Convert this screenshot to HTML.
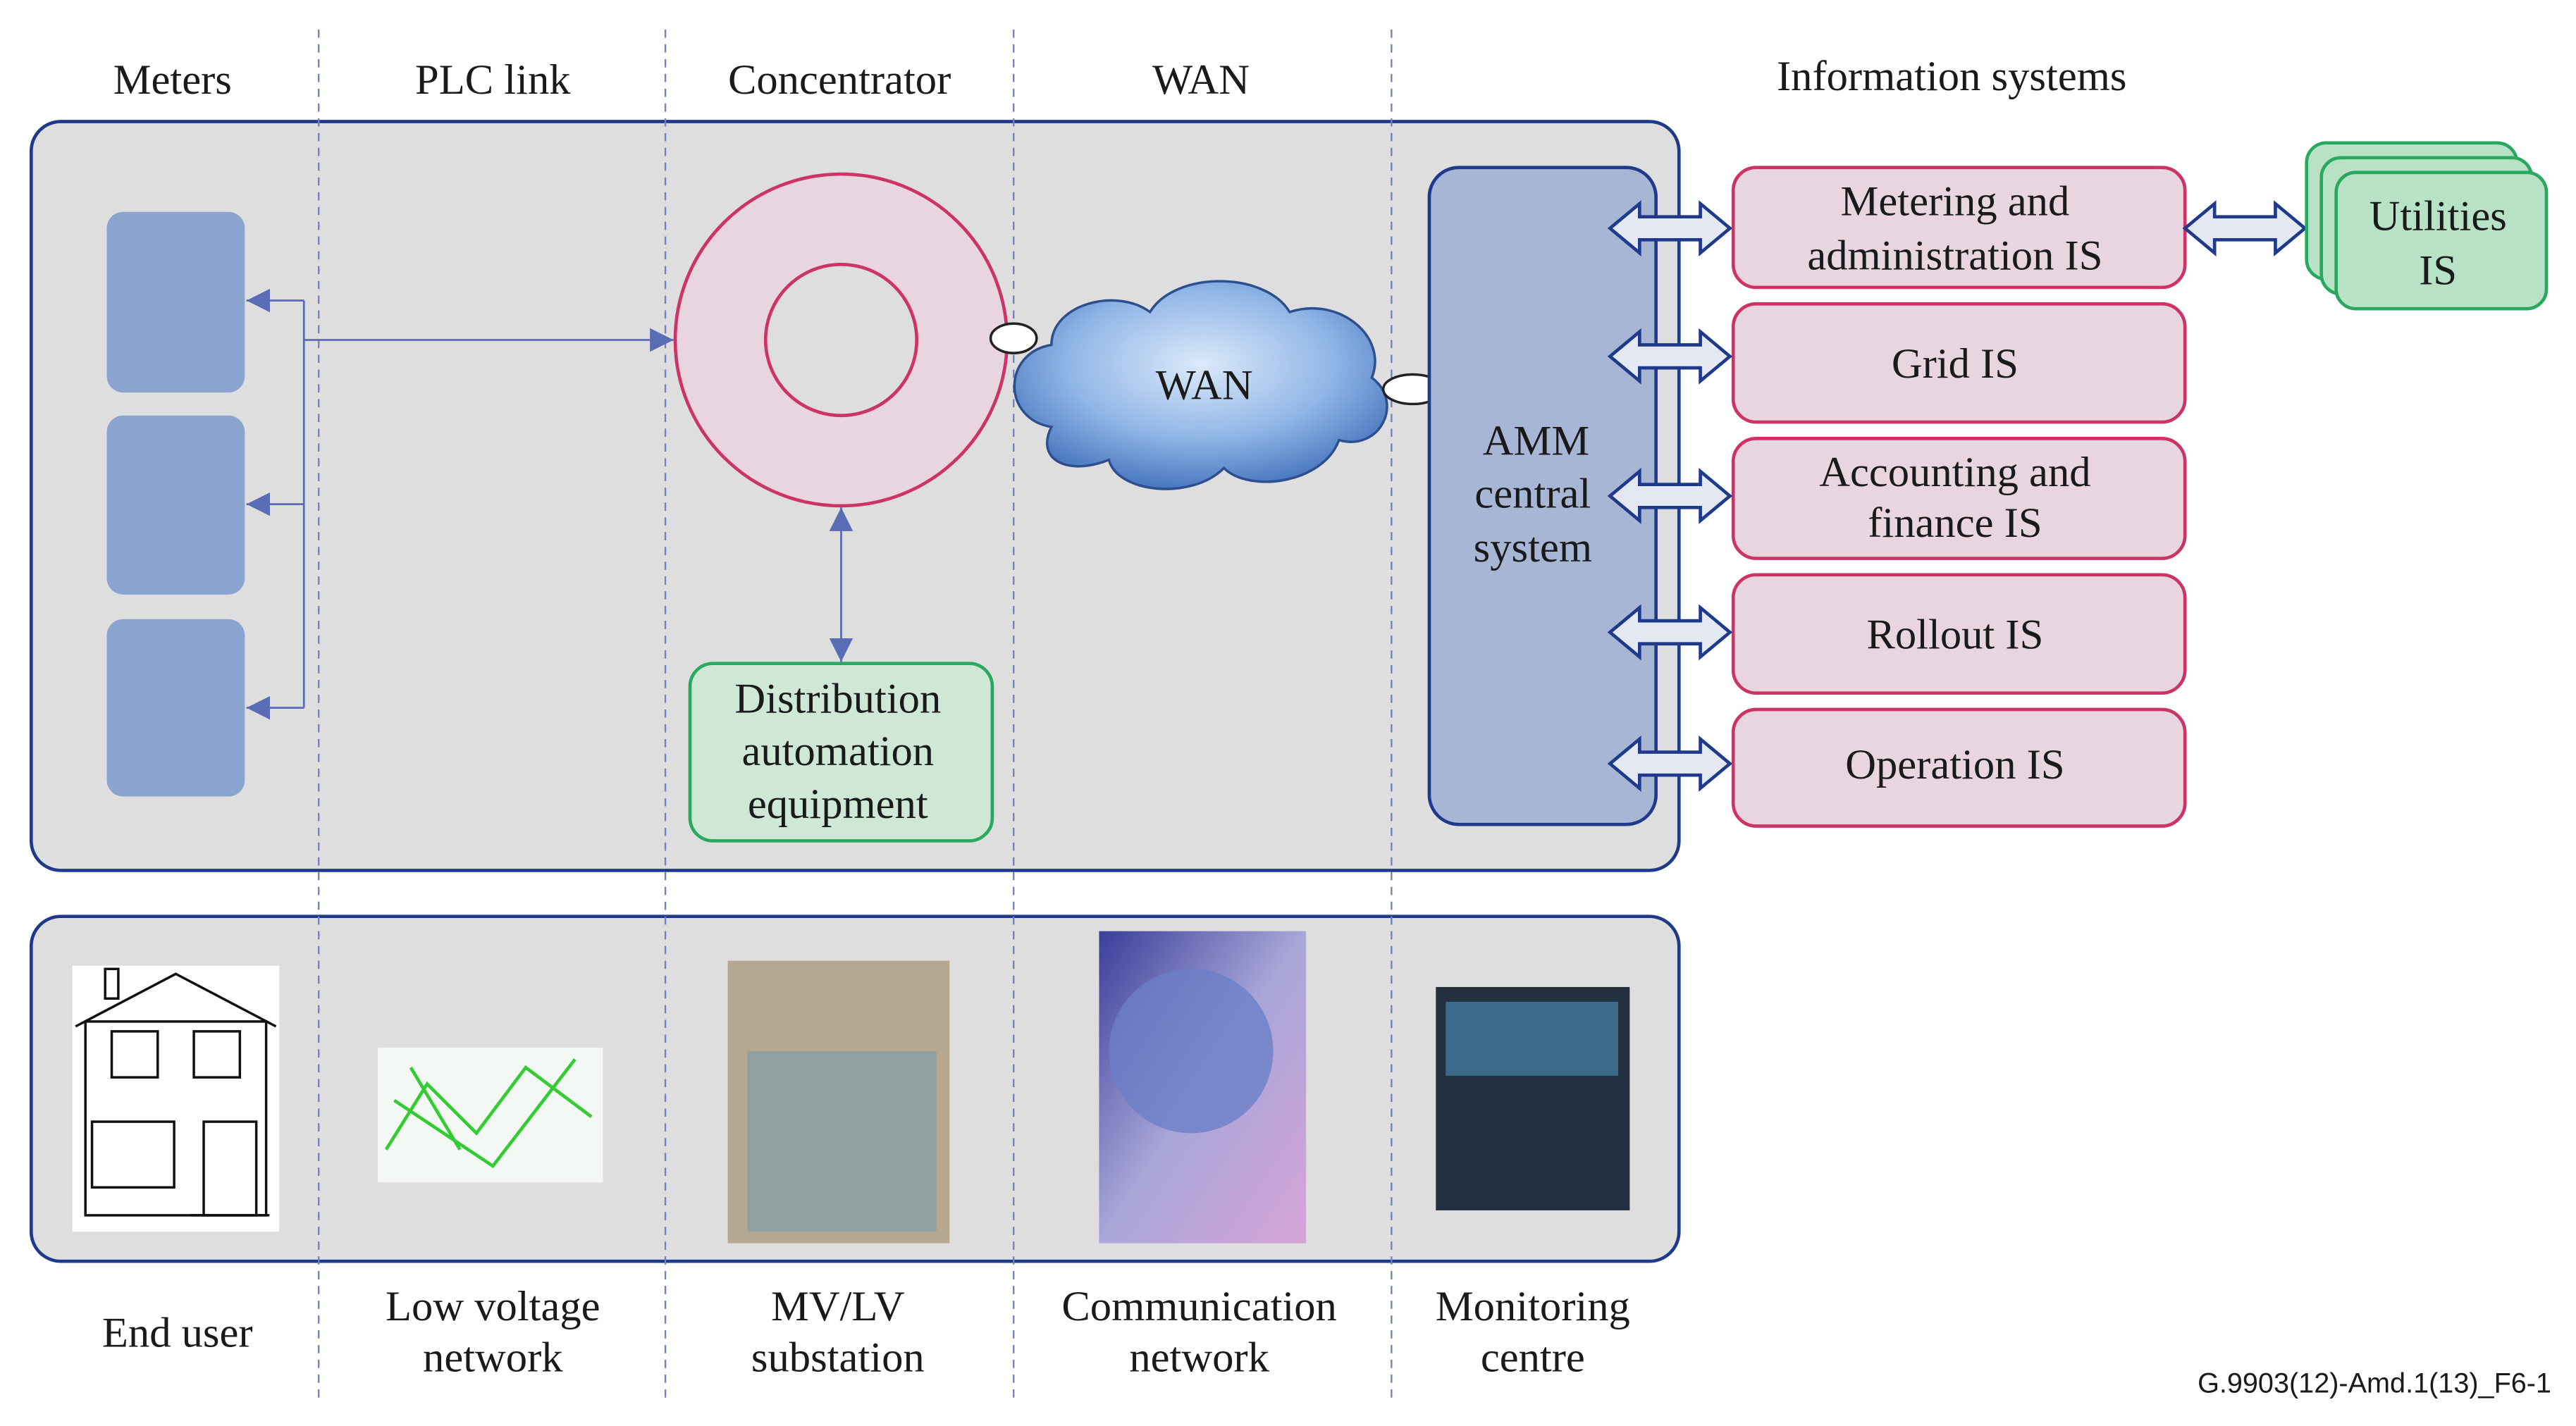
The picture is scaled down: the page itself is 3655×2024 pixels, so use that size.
<!DOCTYPE html>
<html><head><meta charset="utf-8"><style>html,body{margin:0;padding:0;background:#fff}svg{display:block}</style></head>
<body>
<svg width="3655" height="2024" viewBox="0 0 1568 868.3" xmlns="http://www.w3.org/2000/svg">
<defs>
<radialGradient id="cl" cx="50%" cy="40%" r="60%"><stop offset="0" stop-color="#dbe9fa"/><stop offset="0.6" stop-color="#8fb5e6"/><stop offset="1" stop-color="#4a78c0"/></radialGradient>
<linearGradient id="gl" x1="0" y1="0" x2="1" y2="1"><stop offset="0" stop-color="#3a3f9a"/><stop offset="0.5" stop-color="#a9a6d8"/><stop offset="1" stop-color="#d7a3d8"/></linearGradient>
<marker id="ah" viewBox="0 0 10 10" refX="10" refY="5" markerWidth="12" markerHeight="12" orient="auto-start-reverse"><path d="M0,0L10,5L0,10z" fill="#5a6cb5"/></marker>
</defs>
<g font-family="Liberation Serif, serif" font-size="26" fill="#1a1a1a" text-anchor="middle">
<rect x="19" y="74" width="1003" height="456" rx="18" fill="#dedede" stroke="#1f3a8a" stroke-width="2"/>
<rect x="19" y="558" width="1003" height="210" rx="18" fill="#dedede" stroke="#1f3a8a" stroke-width="2"/>
<g stroke="#7080c0" stroke-width="1" stroke-dasharray="5,4">
<line x1="194" y1="18" x2="194" y2="852"/><line x1="405" y1="18" x2="405" y2="852"/><line x1="617" y1="18" x2="617" y2="852"/><line x1="847" y1="18" x2="847" y2="852"/></g>
<text x="105" y="57">Meters</text><text x="300" y="57">PLC link</text><text x="511" y="57">Concentrator</text><text x="731" y="57">WAN</text><text x="1188" y="55">Information systems</text>
<g fill="#8aa3cf"><rect x="65" y="129" width="84" height="110" rx="10"/><rect x="65" y="253" width="84" height="109" rx="10"/><rect x="65" y="377" width="84" height="108" rx="10"/></g>
<g stroke="#5a6cb5" stroke-width="1.2" fill="none">
<polyline points="185,183 185,431"/>
<line x1="185" y1="183" x2="150" y2="183" marker-end="url(#ah)"/>
<line x1="185" y1="307" x2="150" y2="307" marker-end="url(#ah)"/>
<line x1="185" y1="431" x2="150" y2="431" marker-end="url(#ah)"/>
<line x1="185" y1="207" x2="410" y2="207" marker-end="url(#ah)"/>
<line x1="512" y1="309" x2="512" y2="403" marker-start="url(#ah)" marker-end="url(#ah)"/></g>
<circle cx="512" cy="207" r="101" fill="#e8d5df" stroke="#cc3366" stroke-width="2"/>
<circle cx="512" cy="207" r="46" fill="#dedede" stroke="#cc3366" stroke-width="2"/>
<rect x="420" y="404" width="184" height="108" rx="14" fill="#cfe8d6" stroke="#2aa860" stroke-width="2"/>
<text x="510" y="434">Distribution</text><text x="510" y="466">automation</text><text x="510" y="498">equipment</text>
<path d="M640,260 C610,255 610,215 640,210 C640,185 680,175 700,190 C715,165 770,165 785,190 C815,180 845,205 835,230 C855,245 840,275 815,268 C805,295 760,300 745,285 C725,305 680,300 675,280 C650,290 630,280 640,260z" fill="url(#cl)" stroke="#2d4f8f" stroke-width="1.5"/>
<text x="733" y="243">WAN</text>
<ellipse cx="617" cy="206" rx="14" ry="9" fill="#fff" stroke="#222" stroke-width="1.5"/>
<ellipse cx="860" cy="237" rx="18" ry="9" fill="#fff" stroke="#222" stroke-width="1.5"/>
<rect x="870" y="102" width="138" height="400" rx="18" fill="#a8b6d6" stroke="#1f3a8a" stroke-width="2"/>
<text x="935" y="277">AMM</text><text x="933" y="309">central</text><text x="933" y="342">system</text>
<g fill="#e8d5df" stroke="#cc3366" stroke-width="2">
<rect x="1055" y="102" width="275" height="73" rx="14"/><rect x="1055" y="185" width="275" height="72" rx="14"/><rect x="1055" y="267" width="275" height="73" rx="14"/><rect x="1055" y="350" width="275" height="72" rx="14"/><rect x="1055" y="432" width="275" height="71" rx="14"/></g>
<text x="1190" y="131">Metering and</text><text x="1190" y="164">administration IS</text>
<text x="1190" y="230">Grid IS</text>
<text x="1190" y="296">Accounting and</text><text x="1190" y="327">finance IS</text>
<text x="1190" y="395">Rollout IS</text>
<text x="1190" y="474">Operation IS</text>
<g fill="#e4e8f2" stroke="#1f3a8a" stroke-width="2">
<path id="da" d="M980,0 L998,-15 L998,-7 L1035,-7 L1035,-15 L1053,0 L1035,15 L1035,7 L998,7 L998,15z" transform="translate(0,139)"/>
<use href="#da" transform="translate(0,78)"/><use href="#da" transform="translate(0,163)"/><use href="#da" transform="translate(0,246)"/><use href="#da" transform="translate(0,326)"/>
<use href="#da" transform="translate(350,0)"/></g>
<g fill="#b7e2c5" stroke="#2aa860" stroke-width="2">
<rect x="1404" y="87" width="128" height="83" rx="12"/><rect x="1413" y="96" width="128" height="83" rx="12"/><rect x="1422" y="105" width="128" height="83" rx="12"/></g>
<text x="1484" y="140">Utilities</text><text x="1484" y="173">IS</text>
<rect x="44" y="588" width="126" height="162" fill="#fff"/>
<g fill="none" stroke="#111" stroke-width="1.5">
<path d="M46,625 L107,593 L168,625"/><rect x="52" y="622" width="110" height="118"/><rect x="64" y="590" width="8" height="18"/>
<rect x="68" y="628" width="28" height="28"/><rect x="118" y="628" width="28" height="28"/>
<rect x="56" y="683" width="50" height="40"/><rect x="124" y="683" width="32" height="57"/><path d="M116,740 h48"/></g>
<rect x="230" y="638" width="137" height="82" fill="#f4f8f4"/>
<path d="M235,700 L260,660 L290,690 L320,650 L360,680 M240,670 L300,710 L350,645 M250,650 L280,700" stroke="#3c3" stroke-width="2" fill="none"/>
<rect x="443" y="585" width="135" height="172" fill="#b6a890"/>
<rect x="455" y="640" width="115" height="110" fill="#8fa0a0"/>
<rect x="669" y="567" width="126" height="190" fill="url(#gl)"/>
<circle cx="725" cy="640" r="50" fill="#6a7fc8" opacity="0.8"/>
<rect x="874" y="601" width="118" height="136" fill="#243040"/>
<rect x="880" y="610" width="105" height="45" fill="#3e6a8a"/>
<text x="108" y="820">End user</text>
<text x="300" y="804">Low voltage</text><text x="300" y="835">network</text>
<text x="510" y="804">MV/LV</text><text x="510" y="835">substation</text>
<text x="730" y="804">Communication</text><text x="730" y="835">network</text>
<text x="933" y="804">Monitoring</text><text x="933" y="835">centre</text>
<text x="1553" y="848" font-family="Liberation Sans, sans-serif" font-size="17" text-anchor="end">G.9903(12)-Amd.1(13)_F6-1</text>
</g>
</svg>
</body></html>
